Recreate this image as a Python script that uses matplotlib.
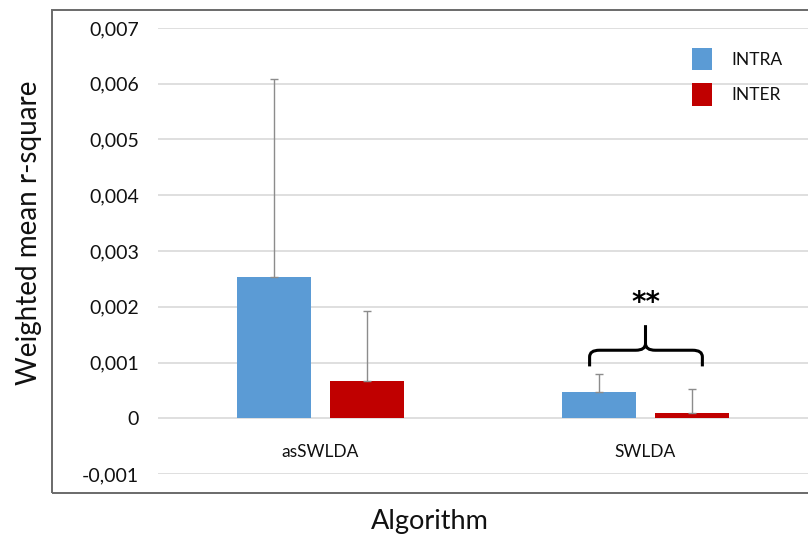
import matplotlib
matplotlib.use("Agg")
import matplotlib.pyplot as plt
import numpy as np
from matplotlib.patches import Rectangle
from matplotlib.path import Path
from matplotlib.patches import PathPatch

categories = ["asSWLDA", "SWLDA"]
intra = [0.00253, 0.00047]
inter = [0.00066, 0.00009]
intra_err = [0.00356, 0.00032]
inter_err = [0.00126, 0.00043]
yticks = [-0.001, 0, 0.001, 0.002, 0.003, 0.004, 0.005, 0.006, 0.007]
ytick_labels = ["-0,001", "0", "0,001", "0,002", "0,003", "0,004", "0,005", "0,006", "0,007"]

plt.rcParams['font.family'] = ['Lato', 'DejaVu Sans']

fig = plt.figure(figsize=(8.08, 5.38), dpi=100)
W, H = 808, 538
ax = fig.add_axes([158 / W, (H - 474) / H, (808 - 158) / W, (474 - 28) / H])

x = np.arange(len(categories))
bw = 0.228
off = 0.142
blue = "#5B9BD5"
red = "#C00000"
ax.bar(x - off, intra, bw, color=blue, label="INTRA", zorder=3)
ax.bar(x + off, inter, bw, color=red, label="INTER", zorder=3)
ax.errorbar(x - off, intra, yerr=[np.zeros(2), intra_err], fmt="none",
            ecolor="#8c8c8c", elinewidth=1.0, capsize=3, capthick=1.0, zorder=4)
ax.errorbar(x + off, inter, yerr=[np.zeros(2), inter_err], fmt="none",
            ecolor="#8c8c8c", elinewidth=1.0, capsize=3, capthick=1.0, zorder=4)

ax.set_xlim(-0.5, 1.5)
ax.set_ylim(-0.001, 0.007)
ax.set_yticks(yticks)
ax.set_yticklabels(ytick_labels, fontsize=14, color="#111111")
ax.yaxis.grid(True, color="#d9d9d9", linewidth=1.2, zorder=0)
ax.set_axisbelow(True)
ax.tick_params(axis="y", length=0, pad=13.5)
ax.set_xticks([])
for s in ax.spines.values():
    s.set_visible(False)

for xi, c in zip(x, categories):
    ax.text(xi, -0.00061, c, ha="center", va="center", fontsize=12.5, color="#111111")

# brace annotation over SWLDA
cx = 1.0
xl, xr = cx - 0.172, cx + 0.175
yb, ym, yt = 0.00093, 0.00122, 0.00167
r = 0.03
rv = 0.00012
verts = [(xl, yb), (xl, ym - rv), (xl, ym), (xl + r, ym),
         (cx - r, ym), (cx, ym), (cx, ym + rv), (cx, yt)]
codes = [Path.MOVETO, Path.LINETO, Path.CURVE3, Path.CURVE3,
         Path.LINETO, Path.CURVE3, Path.CURVE3, Path.LINETO]
ax.add_patch(PathPatch(Path(verts, codes), fill=False, lw=2.2, color="black", zorder=5))
verts2 = [(xr, yb), (xr, ym - rv), (xr, ym), (xr - r, ym),
          (cx + r, ym), (cx, ym), (cx, ym + rv)]
codes2 = [Path.MOVETO, Path.LINETO, Path.CURVE3, Path.CURVE3,
          Path.LINETO, Path.CURVE3, Path.CURVE3]
ax.add_patch(PathPatch(Path(verts2, codes2), fill=False, lw=2.2, color="black", zorder=5))
ax.text(cx, 0.00207, "**", ha="center", va="center", fontsize=20, fontweight="bold",
        family="DejaVu Sans")

leg = ax.legend(loc="upper left", bbox_to_anchor=(692 / W, (H - 48) / H),
                bbox_transform=fig.transFigure, frameon=False, borderpad=0,
                borderaxespad=0, fontsize=12.5, handlelength=1.15, handleheight=1.6,
                labelspacing=0.75, handletextpad=1.1)
for t in leg.get_texts():
    t.set_color("#111111")

fig.patches.append(Rectangle((52 / W, (H - 493) / H), (W + 10 - 52) / W, (493 - 10) / H,
                             transform=fig.transFigure, fill=False, lw=1.4,
                             edgecolor="#6a6a6a", zorder=0))
fig.text(29 / W, (H - 233) / H, "Weighted mean r-square", rotation=90, ha="center",
         va="center", fontsize=20, color="#111111")
fig.text(430 / W, (H - 521) / H, "Algorithm", ha="center", va="center",
         fontsize=19.5, color="#111111")

fig.savefig("out.png", dpi=100)
